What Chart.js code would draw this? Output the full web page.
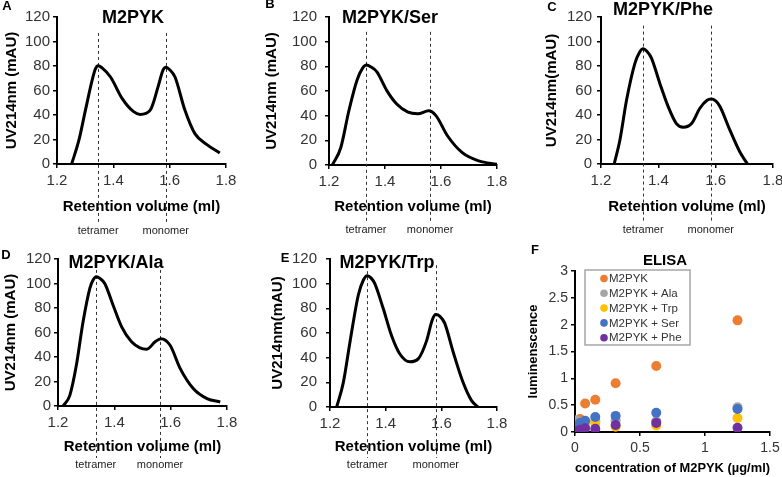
<!DOCTYPE html>
<html>
<head>
<meta charset="utf-8">
<script src="https://cdn.jsdelivr.net/npm/chart.js@4.4.0/dist/chart.umd.min.js"></script>
<style>
  body { margin: 0; background: #fff; }
  #fig { position: relative; width: 782px; height: 477px; overflow: hidden; background: #fff; }
  .panel { position: absolute; }
</style>
</head>
<body>
<div id="fig"></div>
<script>
// --- size exclusion traces: retention volume (ml) vs UV214nm (mAU)
const volA = [1.252, 1.278, 1.301, 1.325, 1.336, 1.346, 1.36, 1.39, 1.431, 1.472, 1.495, 1.531, 1.56, 1.576, 1.587, 1.60, 1.619, 1.654, 1.689, 1.731, 1.778];
const uvA = [0, 19.6, 44, 68.6, 77.5, 80.3, 78.5, 71, 53.6, 42.7, 40.5, 44, 64, 76.5, 79, 77, 71, 44, 25, 16, 9];

const volB = [1.212, 1.242, 1.271, 1.30, 1.32, 1.334, 1.35, 1.371, 1.406, 1.441, 1.482, 1.517, 1.556, 1.582, 1.623, 1.676, 1.735, 1.8];
const uvB = [0, 14, 44, 68.7, 78.5, 81, 79.5, 75.5, 60.5, 49.6, 42.8, 41.5, 44, 40, 23.7, 10, 3.3, 0.5];

const volC = [1.246, 1.266, 1.289, 1.318, 1.335, 1.347, 1.36, 1.376, 1.405, 1.434, 1.463, 1.487, 1.516, 1.545, 1.57, 1.584, 1.6, 1.615, 1.649, 1.684, 1.711];
const uvC = [0, 19.6, 52, 82, 91.5, 94, 92, 86.5, 66, 47, 33, 30, 33, 45.5, 52, 53, 51.5, 47, 28, 10, 0];

const volD = [1.218, 1.242, 1.265, 1.289, 1.313, 1.325, 1.336, 1.35, 1.366, 1.396, 1.426, 1.461, 1.491, 1.515, 1.545, 1.565, 1.598, 1.634, 1.681, 1.729, 1.776];
const uvD = [0, 8.7, 33, 68.7, 96, 103, 105.5, 104, 100, 82, 64.6, 52.4, 47.5, 46.4, 52.4, 55, 49.6, 30.5, 14, 6, 3.3];

const volE = [1.224, 1.248, 1.272, 1.302, 1.32, 1.334, 1.348, 1.361, 1.391, 1.421, 1.451, 1.487, 1.517, 1.546, 1.568, 1.58, 1.595, 1.612, 1.642, 1.678, 1.708, 1.732];
const uvE = [0, 20, 53, 91, 103, 106.5, 104.5, 100, 80, 58, 43, 36.6, 39, 53, 71, 75, 73.5, 68, 45, 20, 5.4, 0];

// dashed reference lines (tetramer, monomer) for panels A-E
const tetramerVol = [1.346, 1.332, 1.347, 1.334, 1.334];
const monomerVol = [1.586, 1.561, 1.583, 1.562, 1.58];
const markerNames = ["tetramer", "monomer"];

// --- ELISA
const concentration = [0.0098, 0.0195, 0.039, 0.078, 0.156, 0.3125, 0.625, 1.25];
const lumM2PYK = [0.12, 0.17, 0.24, 0.53, 0.6, 0.91, 1.23, 2.08];
const lumAla = [0.22, 0.19, 0.17, 0.16, 0.2, 0.22, 0.2, 0.46];
const lumTrp = [0.08, 0.1, 0.12, 0.14, 0.17, 0.1, 0.12, 0.26];
const lumSer = [0.08, 0.12, 0.17, 0.21, 0.28, 0.3, 0.36, 0.43];
const lumPhe = [0.0, 0.02, 0.04, 0.07, 0.06, 0.13, 0.17, 0.08];
const elisaNames = ["M2PYK", "M2PYK + Ala", "M2PYK + Trp", "M2PYK + Ser", "M2PYK + Phe"];
const elisaColors = ["#ED7D31", "#A5A5A5", "#FFC000", "#4472C4", "#7030A0"];

const FONT = '"Liberation Sans", Arial, sans-serif';
Chart.defaults.font.family = FONT;

const fig = document.getElementById("fig");

function addCanvas(left, top, w, h) {
  const div = document.createElement("div");
  div.className = "panel";
  div.style.left = left + "px";
  div.style.top = top + "px";
  const c = document.createElement("canvas");
  c.width = w;
  c.height = h;
  div.appendChild(c);
  fig.appendChild(div);
  return c;
}

// excel-like number labels: 1 not 1.0
function plainTick(v) {
  return String(Number(v.toFixed(2)));
}

// panel layout: box = canvas [left, top, w, h], area = chart area [l, t, r, b] in canvas coords
const secPanels = [
  { letter: "A", title: "M2PYK", vol: volA, uv: uvA, ytitle: "UV214nm (mAU)",
    box: [0, 0, 260, 237], area: [57, 17, 226, 164], ytitleX: 12, ytickPad: 3,
    xtitleY: 207, labelY: 231, dashTop: 107, titleXY: [133, 18], letterXY: [7, 6] },
  { letter: "B", title: "M2PYK/Ser", vol: volB, uv: uvB, ytitle: "UV214nm (mAU)",
    box: [260, 0, 260, 237], area: [69, 17, 237, 165], ytitleX: 12, ytickPad: 8,
    xtitleY: 207, labelY: 230, dashTop: 108, titleXY: [130, 18], letterXY: [10, 4] },
  { letter: "C", title: "M2PYK/Phe", vol: volC, uv: uvC, ytitle: "UV214nm(mAU)",
    box: [520, 0, 262, 237], area: [81, 17, 253, 164], ytitleX: 32, ytickPad: 5,
    xtitleY: 207, labelY: 230, dashTop: 113, titleXY: [143, 10], letterXY: [32, 7] },
  { letter: "D", title: "M2PYK/Ala", vol: volD, uv: uvD, ytitle: "UV214nm (mAU)",
    box: [0, 237, 260, 240], area: [58, 22, 227, 169], ytitleX: 11, ytickPad: 3,
    xtitleY: 210, labelY: 228, dashTop: 116, titleXY: [116, 26], letterXY: [6, 18] },
  { letter: "E", title: "M2PYK/Trp", vol: volE, uv: uvE, ytitle: "UV214nm(mAU)",
    box: [260, 237, 260, 240], area: [70, 22, 237, 170], ytitleX: 18, ytickPad: 9,
    xtitleY: 210, labelY: 228, dashTop: 115, titleXY: [127, 26], letterXY: [25, 21] },
];

function secDecor(p, idx) {
  return {
    id: "secDecor" + p.letter,
    beforeDatasetsDraw(chart) {
      const { ctx, scales: { x, y } } = chart;
      ctx.save();
      ctx.strokeStyle = "#333";
      ctx.lineWidth = 1;
      ctx.setLineDash([3, 3]);
      [tetramerVol[idx], monomerVol[idx]].forEach((v) => {
        const px = Math.round(x.getPixelForValue(v)) + 0.5;
        ctx.beginPath();
        ctx.moveTo(px, y.getPixelForValue(p.dashTop));
        ctx.lineTo(px, p.labelY - 7);
        ctx.stroke();
      });
      ctx.restore();
    },
    afterDraw(chart) {
      const { ctx, scales: { x } } = chart;
      ctx.save();
      ctx.textAlign = "center";
      ctx.textBaseline = "middle";
      ctx.fillStyle = "#222";
      ctx.font = "11px " + FONT;
      [tetramerVol[idx], monomerVol[idx]].forEach((v, i) => {
        ctx.fillText(markerNames[i], x.getPixelForValue(v), p.labelY);
      });
      ctx.fillStyle = "#000";
      ctx.font = "bold 18px " + FONT;
      ctx.fillText(p.title, p.titleXY[0], p.titleXY[1]);
      ctx.font = "bold 13px " + FONT;
      ctx.fillText(p.letter, p.letterXY[0], p.letterXY[1]);
      ctx.restore();
    },
  };
}

secPanels.forEach((p, idx) => {
  const [left, top, w, h] = p.box;
  const [aL, aT, aR, aB] = p.area;
  const lh = 15 * 1.2;
  const xBottom = p.xtitleY + lh / 2;
  const titleFont = { family: FONT, size: 15, weight: "bold" };
  new Chart(addCanvas(left, top, w, h), {
    type: "line",
    data: {
      datasets: [
        {
          data: p.vol.map((v, i) => ({ x: v, y: p.uv[i] })),
          borderColor: "#000",
          borderWidth: 3,
          pointRadius: 0,
          tension: 0.4,
          cubicInterpolationMode: "monotone",
          fill: false,
        },
      ],
    },
    options: {
      responsive: false,
      animation: false,
      devicePixelRatio: 1,
      layout: { padding: { left: 0, top: aT, right: w - aR, bottom: h - xBottom } },
      plugins: { legend: { display: false }, tooltip: { enabled: false } },
      scales: {
        x: {
          type: "linear",
          min: 1.2,
          max: 1.8,
          ticks: { stepSize: 0.2, font: { size: 15 }, color: "#333", padding: 4, maxRotation: 0, callback: plainTick },
          grid: { drawOnChartArea: false, tickLength: 4, color: "#000", lineWidth: 1.5 },
          border: { color: "#000", width: 2 },
          title: { display: true, text: "Retention volume (ml)", font: titleFont, color: "#000", padding: 0 },
          afterFit(s) {
            s.height = xBottom - aB;
            s.paddingLeft = 0;
            s.paddingRight = 0;
          },
        },
        y: {
          min: 0,
          max: 120,
          ticks: { stepSize: 20, font: { size: 15 }, color: "#333", padding: p.ytickPad },
          grid: { drawOnChartArea: false, tickLength: 4, color: "#000", lineWidth: 1.5 },
          border: { color: "#000", width: 2 },
          title: { display: true, text: p.ytitle, font: titleFont, color: "#000", padding: { top: p.ytitleX - lh / 2, bottom: 0 } },
          afterFit(s) {
            s.width = aL;
            s.paddingTop = 0;
            s.paddingBottom = 0;
          },
        },
      },
    },
    plugins: [secDecor(p, idx)],
  });
});

// --- panel F: ELISA scatter
const fBox = [520, 237, 262, 240];
const fArea = [55, 34, 250, 195];
const fXTitleY = 231;
const fYTitleX = 13;

const elisaDecor = {
  id: "elisaDecor",
  afterDraw(chart) {
    const { ctx, chartArea } = chart;
    ctx.save();
    ctx.fillStyle = "#000";
    ctx.textAlign = "center";
    ctx.textBaseline = "middle";
    ctx.font = "bold 15px " + FONT;
    ctx.fillText("ELISA", 145, 24);
    ctx.font = "bold 13px " + FONT;
    ctx.fillText("F", 15, 13);
    // legend box
    const bx = chartArea.left + 10;
    const by = chartArea.top - 1;
    ctx.strokeStyle = "#A6A6A6";
    ctx.lineWidth = 1.5;
    ctx.strokeRect(bx, by, 105, 75);
    ctx.textAlign = "left";
    ctx.font = "11.5px " + FONT;
    chart.data.datasets.forEach((ds, i) => {
      const ry = by + 8.5 + i * 14.8;
      ctx.fillStyle = ds.backgroundColor;
      ctx.beginPath();
      ctx.arc(bx + 19, ry, 3.8, 0, Math.PI * 2);
      ctx.fill();
      ctx.fillStyle = "#333";
      ctx.fillText(ds.label, bx + 24, ry + 0.5);
    });
    ctx.restore();
  },
};

const elisaSeries = [lumM2PYK, lumAla, lumTrp, lumSer, lumPhe];
new Chart(addCanvas(fBox[0], fBox[1], fBox[2], fBox[3]), {
  type: "scatter",
  data: {
    datasets: elisaSeries.map((vals, i) => ({
      label: elisaNames[i],
      data: concentration.map((c, j) => ({ x: c, y: vals[j] })),
      backgroundColor: elisaColors[i],
      borderColor: elisaColors[i],
      borderWidth: 0,
      pointRadius: 5,
      order: elisaSeries.length - i,
    })),
  },
  options: {
    responsive: false,
    animation: false,
    devicePixelRatio: 1,
    layout: { padding: { left: 0, top: fArea[1], right: fBox[2] - fArea[2], bottom: fBox[3] - (fXTitleY + 8.1) } },
    plugins: { legend: { display: false }, tooltip: { enabled: false } },
    scales: {
      x: {
        type: "linear",
        min: 0,
        max: 1.5,
        ticks: { stepSize: 0.5, font: { size: 14 }, color: "#333", padding: 4, maxRotation: 0, callback: plainTick },
        grid: { drawOnChartArea: false, tickLength: 4, color: "#000", lineWidth: 1.5 },
        border: { color: "#000", width: 2 },
        title: { display: true, text: "concentration of M2PYK (µg/ml)", font: { family: FONT, size: 13.5, weight: "bold" }, color: "#000", padding: 0 },
        afterFit(s) {
          s.height = fXTitleY + 8.1 - fArea[3];
          s.paddingLeft = 0;
          s.paddingRight = 0;
        },
      },
      y: {
        min: 0,
        max: 3,
        ticks: { stepSize: 0.5, font: { size: 14 }, color: "#333", padding: 3, callback: plainTick },
        grid: { drawOnChartArea: false, tickLength: 4, color: "#000", lineWidth: 1.5 },
        border: { color: "#000", width: 2 },
        title: { display: true, text: "luminenscence", font: { family: FONT, size: 13, weight: "bold" }, color: "#000", padding: { top: fYTitleX - 7.8, bottom: 0 } },
        afterFit(s) {
          s.width = fArea[0];
          s.paddingTop = 0;
          s.paddingBottom = 0;
        },
      },
    },
  },
  plugins: [elisaDecor],
});
</script>
</body>
</html>
